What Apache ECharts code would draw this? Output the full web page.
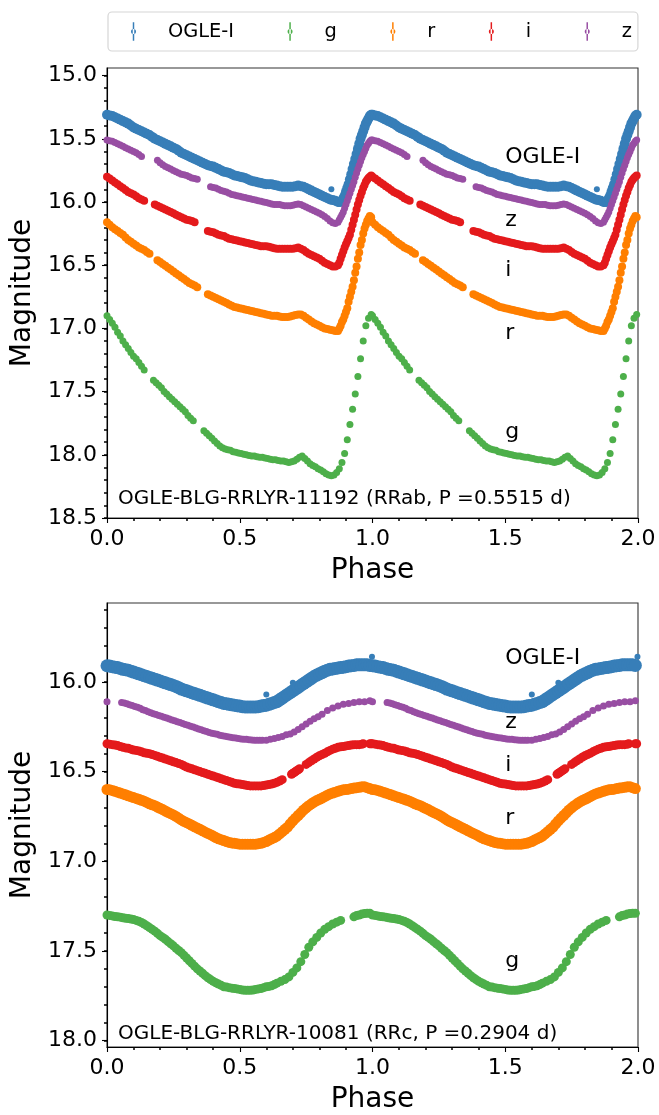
<!DOCTYPE html>
<html><head><meta charset="utf-8">
<script src="https://cdn.jsdelivr.net/npm/echarts@6/dist/echarts.min.js"></script>
<style>html,body{margin:0;padding:0;background:#fff}#c{width:659px;height:1115px}</style>
</head><body><div id="c"></div><script>
// ---------- DATA (phase, magnitude), phase 0..1; plotted twice (0..2) ----------
const bandNames = ['OGLE-I','g','r','i','z'];
const topTicks = [15.0,15.5,16.0,16.5,17.0,17.5,18.0,18.5];
const botTicks = [16.0,16.5,17.0,17.5,18.0];
const topTitle = 'OGLE-BLG-RRLYR-11192 (RRab, P =0.5515 d)';
const botTitle = 'OGLE-BLG-RRLYR-10081 (RRc, P =0.2904 d)';

// --- top star (RRab) ---
const topOGLE = [[0.00,15.31],[0.01,15.315],[0.02,15.32],[0.03,15.33],[0.04,15.34],[0.05,15.35],[0.06,15.36],[0.07,15.37],[0.08,15.38],[0.09,15.395],[0.10,15.41],[0.11,15.42],[0.12,15.43],[0.13,15.44],[0.14,15.45],[0.15,15.46],[0.16,15.47],[0.17,15.485],[0.18,15.50],[0.19,15.51],[0.20,15.52],[0.21,15.53],[0.22,15.54],[0.23,15.55],[0.24,15.56],[0.25,15.57],[0.26,15.58],[0.27,15.595],[0.28,15.61],[0.29,15.62],[0.30,15.63],[0.31,15.64],[0.32,15.65],[0.33,15.66],[0.34,15.67],[0.35,15.68],[0.36,15.69],[0.37,15.70],[0.38,15.71],[0.39,15.715],[0.40,15.72],[0.41,15.73],[0.42,15.74],[0.43,15.75],[0.44,15.76],[0.45,15.765],[0.46,15.77],[0.47,15.78],[0.48,15.79],[0.49,15.795],[0.50,15.80],[0.51,15.805],[0.52,15.81],[0.53,15.82],[0.54,15.83],[0.55,15.835],[0.56,15.84],[0.57,15.845],[0.58,15.85],[0.59,15.855],[0.60,15.86],[0.61,15.86],[0.62,15.86],[0.63,15.865],[0.64,15.87],[0.65,15.875],[0.66,15.88],[0.67,15.88],[0.68,15.88],[0.69,15.88],[0.70,15.88],[0.71,15.875],[0.72,15.87],[0.73,15.875],[0.74,15.88],[0.75,15.89],[0.76,15.90],[0.77,15.91],[0.78,15.92],[0.79,15.93],[0.80,15.94],[0.81,15.95],[0.82,15.96],[0.83,15.97],[0.84,15.98],[0.85,15.985],[0.86,15.99],[0.87,16.00],[0.875,16.00],[0.88,16.00],[0.885,15.99],[0.89,15.97],[0.895,15.95],[0.90,15.92],[0.905,15.89],[0.91,15.86],[0.915,15.82],[0.92,15.78],[0.925,15.74],[0.93,15.70],[0.935,15.66],[0.94,15.62],[0.945,15.58],[0.95,15.54],[0.955,15.50],[0.96,15.47],[0.965,15.44],[0.97,15.41],[0.975,15.38],[0.98,15.36],[0.985,15.34],[0.99,15.32],[0.995,15.31]];
const topOGLEout = [[0.845,15.90]];
const topZ = [[0.00,15.51],[0.01,15.515],[0.02,15.52],[0.03,15.53],[0.04,15.54],[0.05,15.55],[0.06,15.56],[0.07,15.57],[0.08,15.58],[0.09,15.59],[0.10,15.60],[0.11,15.61],[0.12,15.625],[0.13,15.64],
 [0.19,15.67],[0.20,15.69],[0.21,15.705],[0.22,15.72],[0.23,15.73],[0.24,15.74],[0.25,15.75],[0.26,15.76],[0.27,15.77],[0.28,15.78],[0.29,15.785],[0.30,15.79],[0.31,15.80],[0.32,15.81],[0.33,15.815],[0.34,15.82],
 [0.39,15.88],[0.40,15.885],[0.41,15.89],[0.42,15.90],[0.43,15.91],[0.44,15.915],[0.45,15.92],[0.46,15.93],[0.47,15.94],[0.48,15.945],[0.49,15.95],[0.50,15.955],[0.51,15.96],[0.52,15.965],[0.53,15.97],[0.54,15.975],[0.55,15.98],[0.56,15.985],[0.57,15.99],[0.58,15.995],[0.59,16.00],[0.60,16.005],[0.61,16.01],[0.62,16.015],[0.63,16.02],[0.64,16.02],[0.65,16.02],[0.66,16.025],[0.67,16.03],[0.68,16.03],[0.69,16.03],[0.70,16.025],[0.71,16.02],[0.72,16.015],[0.73,16.02],[0.74,16.03],[0.75,16.04],[0.76,16.05],[0.77,16.06],[0.78,16.07],[0.79,16.08],[0.80,16.09],[0.81,16.10],[0.82,16.115],[0.83,16.13],[0.84,16.15],[0.85,16.165],[0.86,16.17],[0.87,16.16],
 [0.875,16.14],[0.88,16.12],[0.885,16.10],[0.89,16.08],[0.895,16.05],[0.90,16.02],[0.905,15.99],[0.91,15.96],[0.915,15.93],[0.92,15.90],[0.925,15.87],[0.93,15.84],[0.935,15.805],[0.94,15.77],[0.945,15.74],[0.95,15.71],[0.955,15.68],[0.96,15.65],[0.965,15.625],[0.97,15.60],[0.975,15.575],[0.98,15.55],[0.985,15.535],[0.99,15.52],[0.995,15.51]];
const topI = [[0.00,15.80],[0.01,15.815],[0.02,15.83],[0.03,15.845],[0.04,15.86],[0.05,15.875],[0.06,15.89],[0.07,15.905],[0.08,15.92],[0.09,15.93],[0.10,15.94],[0.11,15.955],[0.12,15.97],[0.13,15.98],[0.14,15.99],
 [0.18,16.02],[0.19,16.03],[0.20,16.04],[0.21,16.05],[0.22,16.06],[0.23,16.07],[0.24,16.08],[0.25,16.09],[0.26,16.10],[0.27,16.11],[0.28,16.12],[0.29,16.13],[0.30,16.14],[0.31,16.145],[0.32,16.15],[0.33,16.16],
 [0.38,16.23],[0.39,16.235],[0.40,16.24],[0.41,16.25],[0.42,16.26],[0.43,16.265],[0.44,16.27],[0.45,16.28],[0.46,16.29],[0.47,16.295],[0.48,16.30],[0.49,16.305],[0.50,16.31],[0.51,16.315],[0.52,16.32],[0.53,16.325],[0.54,16.33],[0.55,16.335],[0.56,16.34],[0.57,16.345],[0.58,16.35],[0.59,16.35],[0.60,16.35],[0.61,16.355],[0.62,16.36],[0.63,16.365],[0.64,16.37],[0.65,16.37],[0.66,16.37],[0.67,16.37],[0.68,16.37],[0.69,16.37],[0.70,16.37],[0.71,16.365],[0.72,16.36],[0.73,16.37],[0.74,16.38],[0.75,16.395],[0.76,16.41],[0.77,16.42],[0.78,16.43],[0.79,16.44],[0.80,16.45],[0.81,16.465],[0.82,16.48],[0.83,16.49],[0.84,16.50],[0.85,16.51],[0.86,16.51],[0.87,16.50],
 [0.875,16.48],[0.88,16.45],[0.885,16.42],[0.89,16.39],[0.895,16.36],[0.90,16.335],[0.905,16.31],[0.91,16.285],[0.915,16.26],[0.92,16.22],[0.925,16.18],[0.93,16.14],[0.935,16.10],[0.94,16.06],[0.945,16.02],[0.95,15.985],[0.955,15.95],[0.96,15.92],[0.965,15.89],[0.97,15.865],[0.975,15.84],[0.98,15.825],[0.985,15.81],[0.99,15.80],[0.995,15.79]];
const topR = [[0.00,16.16],[0.01,16.18],[0.02,16.20],[0.03,16.215],[0.04,16.23],[0.05,16.245],[0.06,16.26],[0.07,16.28],[0.08,16.30],[0.09,16.315],[0.10,16.33],[0.11,16.345],[0.12,16.36],[0.13,16.37],[0.14,16.38],[0.15,16.395],[0.16,16.41],
 [0.19,16.46],[0.20,16.475],[0.21,16.49],[0.22,16.505],[0.23,16.52],[0.24,16.535],[0.25,16.55],[0.26,16.565],[0.27,16.58],[0.28,16.595],[0.29,16.61],[0.30,16.625],[0.31,16.64],[0.32,16.65],[0.33,16.66],[0.34,16.675],
 [0.38,16.73],[0.39,16.74],[0.40,16.75],[0.41,16.76],[0.42,16.77],[0.43,16.78],[0.44,16.79],[0.45,16.80],[0.46,16.81],[0.47,16.82],[0.48,16.83],[0.49,16.835],[0.50,16.84],[0.51,16.845],[0.52,16.85],[0.53,16.855],[0.54,16.86],[0.55,16.865],[0.56,16.87],[0.57,16.875],[0.58,16.88],[0.59,16.885],[0.60,16.89],[0.61,16.895],[0.62,16.90],[0.63,16.90],[0.64,16.90],[0.65,16.905],[0.66,16.91],[0.67,16.91],[0.68,16.91],[0.69,16.905],[0.70,16.90],[0.71,16.895],[0.72,16.89],[0.73,16.89],[0.74,16.90],[0.75,16.915],[0.76,16.93],[0.77,16.945],[0.78,16.96],[0.79,16.97],[0.80,16.98],[0.81,16.99],[0.82,17.00],[0.83,17.005],[0.84,17.01],[0.85,17.015],[0.86,17.02],[0.87,17.02],
 [0.875,17.00],[0.88,16.98],[0.885,16.95],[0.89,16.93],[0.895,16.90],[0.90,16.87],[0.905,16.84],[0.91,16.79],[0.915,16.75],[0.92,16.71],[0.925,16.67],[0.93,16.62],[0.935,16.56],[0.94,16.51],[0.945,16.45],[0.95,16.40],[0.955,16.34],[0.96,16.30],[0.965,16.25],[0.97,16.21],[0.975,16.18],[0.98,16.15],[0.985,16.13],[0.99,16.11],[0.995,16.12]];
const topG = [[0.00,16.90],[0.01,16.93],[0.02,16.96],[0.03,16.99],[0.04,17.03],[0.05,17.06],[0.06,17.10],[0.07,17.13],[0.08,17.16],[0.09,17.19],[0.10,17.22],[0.11,17.24],[0.12,17.27],[0.13,17.30],[0.14,17.33],
 [0.175,17.41],[0.185,17.43],[0.195,17.45],[0.205,17.47],[0.215,17.50],[0.225,17.52],[0.235,17.54],[0.245,17.56],[0.255,17.58],[0.265,17.60],[0.275,17.62],[0.285,17.64],[0.295,17.66],[0.305,17.69],[0.315,17.71],[0.325,17.73],
 [0.365,17.81],[0.375,17.83],[0.385,17.85],[0.395,17.87],[0.405,17.89],[0.415,17.91],[0.425,17.93],[0.435,17.945],[0.445,17.955],[0.455,17.96],[0.465,17.965],[0.475,17.975],[0.485,17.98],[0.495,17.985],[0.505,17.99],[0.515,17.995],[0.525,18.00],[0.535,18.005],[0.545,18.01],[0.555,18.01],[0.565,18.015],[0.575,18.02],[0.585,18.02],[0.595,18.025],[0.605,18.03],[0.615,18.035],[0.625,18.04],[0.635,18.04],[0.645,18.045],[0.655,18.05],[0.665,18.05],[0.675,18.055],[0.685,18.06],[0.695,18.055],[0.705,18.05],[0.715,18.035],[0.725,18.02],[0.735,18.01],[0.745,18.03],[0.755,18.05],[0.765,18.07],[0.775,18.085],[0.785,18.095],[0.795,18.11],[0.805,18.12],[0.815,18.135],[0.825,18.15],[0.835,18.16],[0.845,18.165],[0.855,18.16],[0.865,18.14],[0.875,18.11],[0.885,18.06],
 [0.895,17.99],[0.905,17.88],[0.915,17.76],[0.925,17.64],[0.935,17.52],[0.945,17.38],[0.955,17.24],[0.965,17.10],[0.975,16.98],[0.985,16.92],[0.995,16.89]];

// --- bottom star (RRc) ---
const botOGLE = [[0.00,15.91],[0.01,15.912],[0.02,15.915],[0.03,15.918],[0.04,15.92],[0.05,15.925],[0.06,15.93],[0.07,15.932],[0.08,15.935],[0.09,15.94],[0.10,15.945],[0.11,15.95],[0.12,15.955],[0.13,15.96],[0.14,15.965],[0.15,15.97],[0.16,15.975],[0.17,15.98],[0.18,15.985],[0.19,15.99],[0.20,15.995],[0.21,16.00],[0.22,16.005],[0.23,16.01],[0.24,16.015],[0.25,16.02],[0.26,16.025],[0.27,16.032],[0.28,16.04],[0.29,16.045],[0.30,16.05],[0.31,16.055],[0.32,16.06],[0.33,16.065],[0.34,16.07],[0.35,16.075],[0.36,16.08],[0.37,16.085],[0.38,16.09],[0.39,16.095],[0.40,16.10],[0.41,16.105],[0.42,16.11],[0.43,16.115],[0.44,16.12],[0.45,16.122],[0.46,16.125],[0.47,16.128],[0.48,16.13],[0.49,16.133],[0.50,16.135],[0.51,16.138],[0.52,16.14],[0.53,16.14],[0.54,16.14],[0.55,16.14],[0.56,16.14],[0.57,16.138],[0.58,16.135],[0.59,16.132],[0.60,16.13],[0.61,16.125],[0.62,16.12],[0.63,16.115],[0.64,16.11],[0.65,16.10],[0.66,16.09],[0.67,16.08],[0.68,16.07],[0.69,16.06],[0.70,16.05],[0.71,16.04],[0.72,16.03],[0.73,16.02],[0.74,16.01],[0.75,16.00],[0.76,15.99],[0.77,15.98],[0.78,15.97],[0.79,15.962],[0.80,15.955],[0.81,15.948],[0.82,15.94],[0.83,15.935],[0.84,15.93],[0.85,15.928],[0.86,15.925],[0.87,15.922],[0.88,15.92],[0.89,15.918],[0.90,15.915],[0.91,15.912],[0.92,15.91],[0.93,15.908],[0.94,15.905],[0.95,15.905],[0.96,15.905],[0.97,15.905],[0.98,15.905],[0.99,15.908]];
const botOGLEout = [[0.60,16.07],[0.70,16.005],[0.998,15.86]];
const botZ = [[0.00,16.11],
 [0.055,16.115],[0.065,16.118],[0.075,16.122],[0.085,16.127],[0.095,16.132],[0.105,16.137],[0.115,16.142],[0.125,16.147],[0.135,16.155],[0.145,16.16],[0.155,16.167],[0.165,16.172],[0.175,16.177],[0.185,16.182],[0.195,16.187],[0.205,16.192],[0.215,16.197],[0.225,16.202],[0.235,16.207],[0.245,16.212],[0.255,16.217],[0.265,16.222],[0.275,16.227],[0.285,16.232],[0.295,16.237],[0.305,16.242],[0.315,16.247],[0.325,16.252],[0.335,16.257],[0.345,16.262],[0.355,16.267],[0.365,16.272],[0.375,16.277],[0.385,16.282],[0.395,16.286],[0.405,16.289],[0.415,16.292],[0.425,16.297],[0.435,16.30],[0.445,16.303],[0.455,16.306],[0.465,16.309],[0.475,16.311],[0.485,16.313],[0.495,16.316],[0.505,16.318],[0.515,16.32],[0.525,16.32],[0.535,16.322],[0.545,16.324],[0.555,16.325],[0.565,16.325],[0.575,16.325],[0.585,16.325],
 [0.60,16.325],[0.615,16.32],[0.63,16.315],[0.645,16.31],[0.66,16.305],[0.675,16.295],[0.69,16.29],[0.705,16.28],[0.72,16.265],[0.735,16.25],[0.75,16.235],[0.765,16.22],[0.78,16.205],[0.795,16.195],[0.81,16.18],[0.83,16.16],[0.85,16.145],[0.87,16.135],[0.89,16.125],[0.91,16.12],[0.93,16.115],[0.95,16.11],[0.97,16.11],[0.99,16.105]];
const botI = [[0.00,16.345],[0.01,16.347],[0.02,16.35],[0.03,16.352],[0.04,16.355],[0.05,16.36],[0.06,16.365],[0.07,16.368],[0.08,16.37],[0.09,16.375],[0.10,16.38],[0.11,16.382],[0.12,16.385],[0.13,16.39],[0.14,16.395],[0.15,16.398],[0.16,16.40],[0.17,16.405],[0.18,16.41],[0.19,16.415],[0.20,16.42],[0.21,16.425],[0.22,16.43],[0.23,16.435],[0.24,16.44],[0.25,16.445],[0.26,16.45],[0.27,16.455],[0.28,16.46],[0.29,16.468],[0.30,16.475],[0.31,16.48],[0.32,16.485],[0.33,16.49],[0.34,16.495],[0.35,16.50],[0.36,16.505],[0.37,16.51],[0.38,16.515],[0.39,16.52],[0.40,16.525],[0.41,16.53],[0.42,16.535],[0.43,16.54],[0.44,16.545],[0.45,16.55],[0.46,16.555],[0.47,16.56],[0.48,16.565],[0.49,16.568],[0.50,16.57],[0.51,16.572],[0.52,16.575],[0.53,16.578],[0.54,16.58],[0.55,16.58],[0.56,16.58],[0.57,16.58],[0.58,16.58],[0.59,16.578],[0.60,16.575],[0.61,16.572],[0.62,16.57],[0.63,16.565],[0.64,16.56],[0.65,16.553],[0.66,16.545],
 [0.695,16.515],[0.70,16.51],[0.705,16.505],[0.71,16.50],[0.715,16.495],[0.72,16.49],[0.725,16.485],
 [0.75,16.46],[0.76,16.45],[0.77,16.44],[0.78,16.43],[0.79,16.42],[0.80,16.412],[0.81,16.405],[0.82,16.398],[0.83,16.39],[0.84,16.382],[0.85,16.375],[0.86,16.37],[0.87,16.365],[0.88,16.362],[0.89,16.36],[0.90,16.357],[0.91,16.355],[0.92,16.352],[0.93,16.35],[0.94,16.35],[0.95,16.35],[0.96,16.347],[0.965,16.345],
 [0.99,16.345],[0.995,16.345]];
const botR = [[0.00,16.60],[0.01,16.602],[0.02,16.605],[0.03,16.61],[0.04,16.615],[0.05,16.62],[0.06,16.625],[0.07,16.63],[0.08,16.635],[0.09,16.64],[0.10,16.645],[0.11,16.65],[0.12,16.655],[0.13,16.66],[0.14,16.665],[0.15,16.672],[0.16,16.68],[0.17,16.685],[0.18,16.69],[0.19,16.698],[0.20,16.705],[0.21,16.712],[0.22,16.72],[0.23,16.728],[0.24,16.735],[0.25,16.742],[0.26,16.75],[0.27,16.76],[0.28,16.77],[0.29,16.778],[0.30,16.785],[0.31,16.792],[0.32,16.80],[0.33,16.808],[0.34,16.815],[0.35,16.822],[0.36,16.83],[0.37,16.838],[0.38,16.845],[0.39,16.852],[0.40,16.86],[0.41,16.868],[0.42,16.875],[0.43,16.88],[0.44,16.885],[0.45,16.89],[0.46,16.895],[0.47,16.898],[0.48,16.90],[0.49,16.902],[0.50,16.905],[0.51,16.905],[0.52,16.905],[0.53,16.905],[0.54,16.905],[0.55,16.905],[0.56,16.905],[0.57,16.902],[0.58,16.90],[0.59,16.895],[0.60,16.89],[0.61,16.882],[0.62,16.875],[0.63,16.868],[0.64,16.86],[0.65,16.848],[0.66,16.835],[0.67,16.822],[0.68,16.81],[0.69,16.792],[0.70,16.775],[0.71,16.76],[0.72,16.745],[0.73,16.73],[0.74,16.715],[0.75,16.702],[0.76,16.69],[0.77,16.68],[0.78,16.67],[0.79,16.662],[0.80,16.655],[0.81,16.648],[0.82,16.64],[0.83,16.632],[0.84,16.625],[0.85,16.62],[0.86,16.615],[0.87,16.61],[0.88,16.605],[0.89,16.602],[0.90,16.60],[0.91,16.598],[0.92,16.595],[0.93,16.592],[0.94,16.59],[0.95,16.588],[0.96,16.585],[0.97,16.585],[0.98,16.59],[0.99,16.595]];
const botG = [[0.00,17.30],[0.01,17.302],[0.02,17.305],[0.03,17.308],[0.04,17.31],[0.05,17.312],[0.06,17.315],[0.07,17.318],[0.08,17.32],[0.09,17.322],[0.10,17.325],[0.11,17.33],[0.12,17.335],[0.13,17.342],[0.14,17.35],[0.15,17.36],[0.16,17.37],[0.17,17.38],[0.18,17.39],[0.19,17.402],[0.20,17.415],[0.21,17.425],[0.22,17.435],[0.23,17.448],[0.24,17.46],[0.25,17.472],[0.26,17.485],[0.27,17.498],[0.28,17.51],[0.29,17.525],[0.30,17.54],[0.31,17.555],[0.32,17.57],[0.33,17.585],[0.34,17.60],[0.35,17.612],[0.36,17.625],[0.37,17.638],[0.38,17.65],[0.39,17.66],[0.40,17.67],[0.41,17.678],[0.42,17.685],[0.43,17.692],[0.44,17.70],[0.45,17.702],[0.46,17.705],[0.47,17.708],[0.48,17.71],[0.49,17.712],[0.50,17.715],[0.51,17.718],[0.52,17.72],[0.53,17.72],[0.54,17.72],[0.55,17.718],[0.56,17.715],[0.57,17.712],[0.58,17.71],[0.59,17.705],[0.60,17.70],[0.61,17.698],[0.62,17.695],[0.63,17.688],[0.64,17.68],
 [0.655,17.67],[0.67,17.66],[0.685,17.645],[0.70,17.62],[0.715,17.595],[0.73,17.56],[0.745,17.52],[0.76,17.48],[0.775,17.45],[0.79,17.425],[0.805,17.40],[0.82,17.38],[0.835,17.365],[0.85,17.35],[0.865,17.34],[0.88,17.33],
 [0.93,17.31],[0.94,17.303],[0.95,17.30],[0.96,17.295],[0.97,17.292],[0.98,17.29],[0.99,17.29]];

// annotation anchors
const noteText = ['OGLE-I','z','i','r','g'];
const notePhase = 1.5;
const topNoteMag = [15.646, 16.146, 16.537, 17.038, 17.819];
const botNoteMag = [15.868, 16.226, 16.464, 16.758, 17.558];

// ---------- STYLE ----------
const F = 'DejaVu Sans';
const colors = {'OGLE-I':'#377eb8','g':'#4daf4a','r':'#ff7f00','i':'#e41a1c','z':'#984ea3'};
const topSize = {'OGLE-I':10,'g':7,'r':8,'i':8,'z':7};
const botSize = {'OGLE-I':13,'g':9,'r':11,'i':9,'z':7};

function minorList(a, b){ const out=[]; for(let k=Math.round(a*10);k<=Math.round(b*10);k++) out.push(k/10); return out; }

function xAx(gi){ return {type:'value', gridIndex:gi, min:0, max:2, interval:0.5,
  name:'Phase', nameLocation:'middle', nameGap:39, nameTextStyle:{fontFamily:F,fontSize:28,color:'#000'},
  axisLine:{show:true,onZero:false,lineStyle:{color:'#000',width:1.1}},
  axisTick:{show:true,length:5,lineStyle:{color:'#000',width:1.1}},
  minorTick:{show:true,splitNumber:5,length:3,lineStyle:{color:'#000',width:1.5}},
  axisLabel:{fontFamily:F,fontSize:22,color:'#000',margin:10,formatter:v=>v.toFixed(1)},
  splitLine:{show:false}, minorSplitLine:{show:false}}; }
function yAx(gi, mn, mx, ticks){ return {type:'value', gridIndex:gi, min:mn, max:mx, inverse:true, position:'left',
  name:'Magnitude', nameLocation:'middle', nameGap:61, nameTextStyle:{fontFamily:F,fontSize:28,color:'#000'},
  axisLine:{show:true,onZero:false,lineStyle:{color:'#000',width:1.1}},
  axisTick:{show:true,length:5,customValues:ticks,lineStyle:{color:'#000',width:1.1}},
  axisLabel:{fontFamily:F,fontSize:22,color:'#000',margin:10,customValues:ticks,formatter:v=>v.toFixed(1)},
  splitLine:{show:false}}; }
function yMinor(gi, mn, mx, vals){ return {type:'value', gridIndex:gi, min:mn, max:mx, inverse:true, position:'left', offset:0,
  axisLine:{show:false}, axisLabel:{show:false,customValues:vals},
  axisTick:{show:true,length:3,customValues:vals,lineStyle:{color:'#000',width:1.5}}, splitLine:{show:false}}; }

function band(name, arr, size, xi, yi){
  return {type:'scatter', name, xAxisIndex:xi, yAxisIndex:yi, symbol:'circle', symbolSize:size,
    data: arr.concat(arr.map(d=>[d[0]+1,d[1]])), itemStyle:{color:colors[name],opacity:1},
    clip:true, silent:true, emphasis:{disabled:true}, animation:false};
}
function notes(mags, xi, yi){
  return {type:'scatter', xAxisIndex:xi, yAxisIndex:yi, symbolSize:0, silent:true, animation:false,
    itemStyle:{opacity:1}, emphasis:{disabled:true},
    data: mags.map((m,k)=>({value:[notePhase,m], label:{formatter:noteText[k]}})),
    label:{show:true, position:'right', distance:0, fontFamily:F, fontSize:22, color:'#000', opacity:1}};
}

const chart = echarts.init(document.getElementById('c'), null, {renderer:'canvas'});
const topBands = {'OGLE-I':topOGLE,'g':topG,'r':topR,'i':topI,'z':topZ};
const botBands = {'OGLE-I':botOGLE,'g':botG,'r':botR,'i':botI,'z':botZ};
const series = [];
bandNames.forEach(n=>series.push(band(n, topBands[n], topSize[n], 0, 0)));
series.push(band('OGLE-I', topOGLEout, 6, 0, 0));
bandNames.forEach(n=>series.push(band(n, botBands[n], botSize[n], 1, 2)));
series.push(band('OGLE-I', botOGLEout, 6, 1, 2));
series.push(notes(topNoteMag, 0, 0));
series.push(notes(botNoteMag, 1, 2));

chart.setOption({
  animation:false, backgroundColor:'#fff',
  title:[
    {text:topTitle, left:118, top:489, padding:0, textStyle:{fontFamily:F,fontSize:20,fontWeight:'normal',color:'#000'}},
    {text:botTitle, left:118, top:1024, padding:0, textStyle:{fontFamily:F,fontSize:20,fontWeight:'normal',color:'#000'}}
  ],
  legend:{data:bandNames, left:108, top:12, orient:'horizontal', selectedMode:false,
    padding:[10,6,10,23], itemGap:53.5, itemWidth:5, itemHeight:20,
    icon:'path://M1.7,0 L3.3,0 L3.3,20 L1.7,20 Z M-0.2,10 A2.7,2.7 0 1 0 5.2,10 A2.7,2.7 0 1 0 -0.2,10 Z',
    backgroundColor:'#fff', borderColor:'#d6d6d6', borderWidth:1.2, borderRadius:4,
    textStyle:{fontFamily:F,fontSize:19.4,color:'#000',padding:[0,0,0,27]}},
  grid:[
    {left:107, right:21, top:68, height:450, show:true, borderColor:'#333', borderWidth:1.1, backgroundColor:'transparent'},
    {left:107, right:21, top:603, height:449, show:true, borderColor:'#333', borderWidth:1.1, backgroundColor:'transparent'}
  ],
  xAxis:[xAx(0), xAx(1)],
  yAxis:[yAx(0,14.94,18.5,topTicks), yMinor(0,14.94,18.5,minorList(15.0,18.5)),
         yAx(1,15.56,18.036,botTicks), yMinor(1,15.56,18.036,minorList(15.6,18.0))],
  series
});
</script></body></html>
